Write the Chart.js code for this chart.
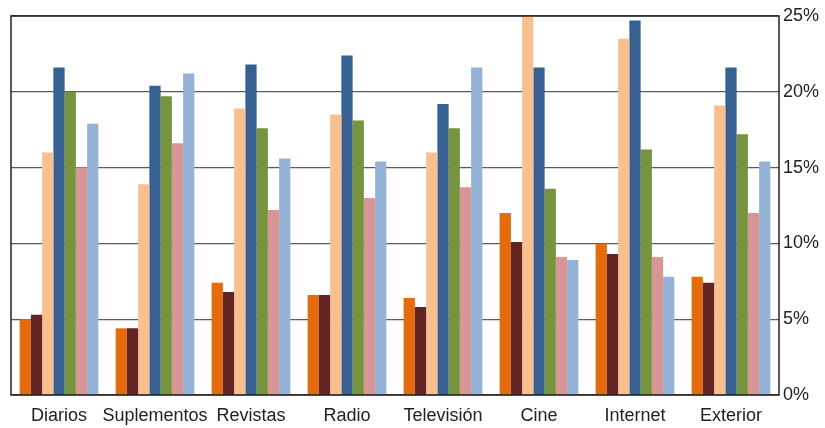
<!DOCTYPE html>
<html>
<head>
<meta charset="utf-8">
<script src="https://cdn.jsdelivr.net/npm/chart.js@4"></script>
<style>
  html, body { margin: 0; padding: 0; background: #fff; }
  #wrap { width: 825px; height: 428px; }
</style>
</head>
<body>
<div id="wrap"><canvas id="grafico" width="825" height="428"></canvas></div>
<script>
// Categorias y valores (%)
const categorias = ['Diarios', 'Suplementos', 'Revistas', 'Radio', 'Televisión', 'Cine', 'Internet', 'Exterior'];

const serie1 = [5.0, 4.4, 7.4, 6.6, 6.4, 12.0, 10.0, 7.8];
const serie2 = [5.3, 4.4, 6.8, 6.6, 5.8, 10.1, 9.3, 7.4];
const serie3 = [16.0, 13.9, 18.9, 18.5, 16.0, 25.0, 23.5, 19.1];
const serie4 = [21.6, 20.4, 21.8, 22.4, 19.2, 21.6, 24.7, 21.6];
const serie5 = [20.0, 19.7, 17.6, 18.1, 17.6, 13.6, 16.2, 17.2];
const serie6 = [15.0, 16.6, 12.2, 13.0, 13.7, 9.1, 9.1, 12.0];
const serie7 = [17.9, 21.2, 15.6, 15.4, 21.6, 8.9, 7.8, 15.4];

const ticksY = [0, 5, 10, 15, 20, 25];

const colores = ['#e46c0a', '#632523', '#f8c090', '#366092', '#77933c', '#d99694', '#95b3d7'];
const series = [serie1, serie2, serie3, serie4, serie5, serie6, serie7];

const fuente = "'Liberation Sans', Arial, sans-serif";

// Marco negro alrededor del área del gráfico
const marco = {
    id: 'marco',
    afterDraw(chart) {
        const a = chart.chartArea;
        const c = chart.ctx;
        c.save();
        c.strokeStyle = '#222';
        c.lineWidth = 1.5;
        c.strokeRect(a.left, a.top, a.right - a.left, a.bottom - a.top);
        c.restore();
    }
};

const ctx = document.getElementById('grafico').getContext('2d');

new Chart(ctx, {
    type: 'bar',
    data: {
        labels: categorias,
        datasets: series.map((s, i) => ({
            label: 'Serie ' + (i + 1),
            data: s,
            backgroundColor: colores[i],
            borderWidth: 0
        }))
    },
    options: {
        responsive: false,
        animation: false,
        maintainAspectRatio: false,
        layout: { padding: { left: 11, top: 16, right: 0, bottom: 0 } },
        datasets: {
            bar: { categoryPercentage: 0.82, barPercentage: 1.0 }
        },
        plugins: {
            legend: { display: false },
            tooltip: { enabled: false }
        },
        scales: {
            x: {
                grid: { display: false },
                border: { display: false },
                ticks: {
                    color: '#222',
                    padding: 2,
                    maxRotation: 0,
                    autoSkip: false,
                    font: { family: fuente, size: 18 }
                },
                afterFit(scale) { scale.height = 33; }
            },
            y: {
                position: 'right',
                min: 0,
                max: 25,
                afterBuildTicks(scale) {
                    scale.ticks = ticksY.map(v => ({ value: v }));
                },
                grid: { color: '#5a5a5a', lineWidth: 1.2, drawTicks: false },
                border: { display: false },
                ticks: {
                    color: '#222',
                    padding: 4,
                    font: { family: fuente, size: 18 },
                    callback: v => v + '%'
                },
                afterFit(scale) { scale.width = 46; }
            }
        }
    },
    plugins: [marco]
});
</script>
</body>
</html>
